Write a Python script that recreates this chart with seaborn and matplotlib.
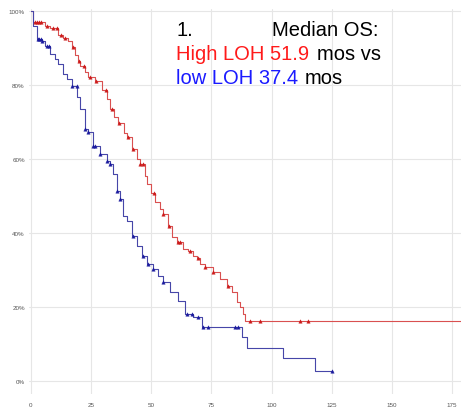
import numpy as np
import pandas as pd
import seaborn as sns
import matplotlib.pyplot as plt

# Kaplan-Meier curves (months, % surviving)
high_t = [0, 0.8, 5.0, 5.8, 7.9, 11.2, 13.3, 15.4, 17.0, 18.3, 19.5, 20.4, 22.4, 23.7,
          26.6, 29.5, 31.6, 32.8, 34.5, 36.2, 38.7, 39.9, 42.0, 44.1, 45.3, 47.4, 48.2,
          49.9, 51.5, 53.6, 54.9, 56.9, 58.6, 60.7, 63.2, 65.3, 67.3, 69.0, 70.2, 72.3,
          75.6, 78.6, 81.5, 83.5, 85.6, 86.9, 88.1, 88.9, 180]
high_s = [100, 97.0, 97.0, 95.9, 95.4, 93.5, 92.7, 91.9, 90.3, 88.1, 86.5, 85.1, 83.5, 82.2,
          81.1, 78.6, 76.2, 73.5, 71.4, 69.7, 67.0, 65.9, 62.7, 60.0, 58.6, 55.4, 53.2,
          50.8, 48.4, 46.5, 45.1, 41.9, 38.9, 37.6, 35.7, 35.1, 33.8, 33.2, 31.6, 30.8,
          29.5, 27.6, 25.7, 24.1, 21.4, 20.0, 18.1, 16.2, 16.2]
high_cens = [1.5, 2.5, 3.3, 4.2, 6.5, 9.0, 11.0, 12.5, 14.0, 17.5, 20.0, 22.0, 24.5, 27.0,
             31.0, 33.5, 36.5, 40.5, 42.5, 45.5, 46.5, 51.0, 55.0, 57.5, 61.0, 62.0, 66.0,
             69.5, 72.3, 75.6, 82.0, 91.0, 95.2, 111.8, 115.2]

low_t = [0, 0.8, 2.5, 4.6, 5.8, 7.9, 10.0, 11.2, 13.3, 15.0, 17.0, 19.1, 20.4, 22.4, 23.7,
         25.8, 28.7, 31.6, 32.8, 34.1, 35.7, 37.0, 38.2, 39.9, 42.0, 44.1, 46.1, 48.2,
         50.7, 52.8, 54.9, 57.8, 61.1, 64.0, 67.3, 71.1, 87.7, 89.8, 104.7, 118.0, 125.1]
low_s = [100, 95.9, 92.4, 91.9, 90.5, 88.4, 87.0, 85.7, 83.0, 81.6, 79.7, 76.8, 73.5, 68.1, 67.3,
         63.5, 61.4, 59.5, 58.6, 55.9, 51.4, 49.2, 44.6, 43.2, 39.2, 36.5, 33.8, 31.6,
         30.3, 28.4, 26.8, 24.1, 21.6, 18.1, 17.3, 14.6, 11.9, 8.9, 6.2, 2.7, 2.7]
low_cens = [2.8, 3.4, 4.0, 4.6, 6.5, 7.5, 17.0, 19.0, 22.5, 23.7, 26.0, 26.6, 28.7, 31.6,
            32.8, 35.7, 37.0, 42.4, 46.5, 48.5, 50.7, 54.9, 64.8, 67.0, 69.5, 71.5, 73.6,
            84.8, 86.0, 125.1]

x_ticks = [0, 25, 50, 75, 100, 125, 150, 175]
y_ticks = [0, 20, 40, 60, 80, 100]


def at(t_list, s_list, times):
    # survival value of a step curve at given times
    idx = np.searchsorted(t_list, times, side='right') - 1
    return np.array(s_list)[idx]


sns.set_style("whitegrid", {"grid.color": "#e6e6e6", "axes.edgecolor": "white"})
plt.rcParams['font.family'] = ['Liberation Sans', 'DejaVu Sans']

fig = plt.figure(figsize=(4.61, 4.10), dpi=100)
ax = fig.add_axes([29 / 461, 15 / 410, 1 - 29 / 461, 385 / 410])

red_line, red_mark = '#d95050', '#cc1a1a'
blue_line, blue_mark = '#4646a8', '#1a1a9e'

hi = pd.DataFrame({'t': high_t, 's': high_s})
lo = pd.DataFrame({'t': low_t, 's': low_s})
sns.lineplot(data=hi, x='t', y='s', drawstyle='steps-post', color=red_line,
             lw=0.8, estimator=None, sort=False, ax=ax)
sns.lineplot(data=lo, x='t', y='s', drawstyle='steps-post', color=blue_line,
             lw=0.8, estimator=None, sort=False, ax=ax)

sns.scatterplot(x=high_cens, y=at(high_t, high_s, high_cens), marker='^', s=6,
                color=red_mark, edgecolor=red_mark, linewidth=0.3, ax=ax, zorder=3)
sns.scatterplot(x=low_cens, y=at(low_t, low_s, low_cens), marker='^', s=6,
                color=blue_mark, edgecolor=blue_mark, linewidth=0.3, ax=ax, zorder=3)

ax.set_xlim(-0.8, 178.7)
ax.set_ylim(-3.5, 100.5)
ax.set_xticks(x_ticks)
ax.set_xticklabels([str(v) for v in x_ticks], fontsize=4.5, color='#555555')
ax.set_yticks(y_ticks)
ax.set_yticklabels([f'{v}%' for v in y_ticks], fontsize=4.5, color='#555555')
ax.tick_params(axis='y', length=2, width=0.5, color='#888888', pad=1)
ax.tick_params(axis='x', length=0, pad=6)
ax.set_xlabel('')
ax.set_ylabel('')
for sp in ax.spines.values():
    sp.set_visible(False)

fs = 14.5


def put(x, y, s, c):
    fig.text(x / 461, 1 - y / 410, s, color=c, fontsize=fs, va='baseline', ha='left')


put(176, 36, '1.', 'black')
put(272, 36, 'Median OS:', 'black')
put(176, 60, 'High LOH 51.9', '#ff1a1a')
put(317, 60, 'mos vs', 'black')
put(176, 84, 'low LOH 37.4', '#1a1aff')
put(305, 84, 'mos', 'black')

fig.savefig('out.png', dpi=100)
